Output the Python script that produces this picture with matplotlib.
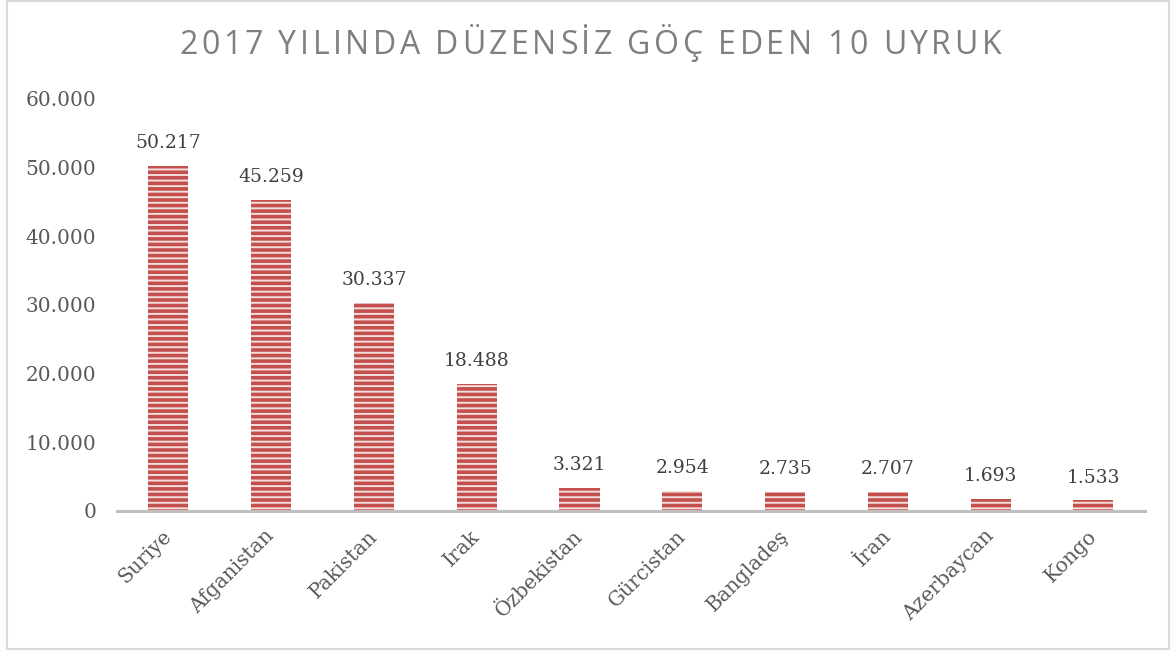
import matplotlib
matplotlib.use('Agg')
import matplotlib.pyplot as plt
from matplotlib.patches import Rectangle
from matplotlib.font_manager import FontProperties
from matplotlib.textpath import text_to_path

# --- dati ---
countries = ['Suriye', 'Afganistan', 'Pakistan', 'Irak', 'Özbekistan',
             'Gürcistan', 'Bangladeş', 'İran', 'Azerbaycan', 'Kongo']
values = [50217, 45259, 30337, 18488, 3321, 2954, 2735, 2707, 1693, 1533]
yticks = [0, 10000, 20000, 30000, 40000, 50000, 60000]
title = '2017 YILINDA DÜZENSİZ GÖÇ EDEN 10 UYRUK'

def fmt(v):
    return f'{v:,}'.replace(',', '.')

plt.rcParams['hatch.linewidth'] = 1.4

fig = plt.figure(figsize=(11.76, 6.52), dpi=100)
ax = fig.add_axes([0.0995, 0.2163, 0.874, 0.6319])

# cornice esterna
fig.patches.append(Rectangle((0.006, 0.004), 0.988, 0.994, transform=fig.transFigure,
                             fill=False, edgecolor='#d9d9d9', linewidth=1.5))

x = range(len(countries))
ax.bar(x, values, width=0.39, color='#C4504D', edgecolor='#F4DEDD',
       hatch='---', linewidth=0)

for i, v in zip(x, values):
    ax.annotate(fmt(v), (i, v), xytext=(0, 10), textcoords='offset points',
                ha='center', va='bottom', fontsize=13.5, family='DejaVu Serif',
                color='#404040')

ax.set_xlim(-0.5, len(countries) - 0.5)
ax.set_ylim(0, 60000)
ax.set_yticks(yticks)
ax.set_yticklabels([fmt(t) for t in yticks], family='DejaVu Serif',
                   fontsize=14.5, color='#595959')
ax.set_xticks(list(x))
ax.set_xticklabels(countries, rotation=45, ha='right', va='center',
                   rotation_mode='anchor', family='DejaVu Serif',
                   fontsize=14.5, color='#595959')
ax.tick_params(axis='x', length=0, pad=16)
ax.tick_params(axis='y', length=0, pad=15)

for s in ['top', 'right', 'left']:
    ax.spines[s].set_visible(False)
ax.spines['bottom'].set_color('#bfbfbf')
ax.spines['bottom'].set_linewidth(2.2)

# titolo con spaziatura tra le lettere
prop = FontProperties(family='Open Sans', size=23)
spacing = 3.6  # px
widths = []
for ch in title:
    w, h, d = text_to_path.get_text_width_height_descent(ch, prop, ismath=False)
    widths.append(w * fig.dpi / 72)
total = sum(widths) + spacing * (len(title) - 1)
px = 1176 / 2 - total / 2 + 2
for ch, w in zip(title, widths):
    fig.text(px / 1176, 1 - 45 / 652, ch, fontproperties=prop, color='#7f7f7f',
             ha='left', va='center')
    px += w + spacing

fig.savefig('out.png', dpi=100)
